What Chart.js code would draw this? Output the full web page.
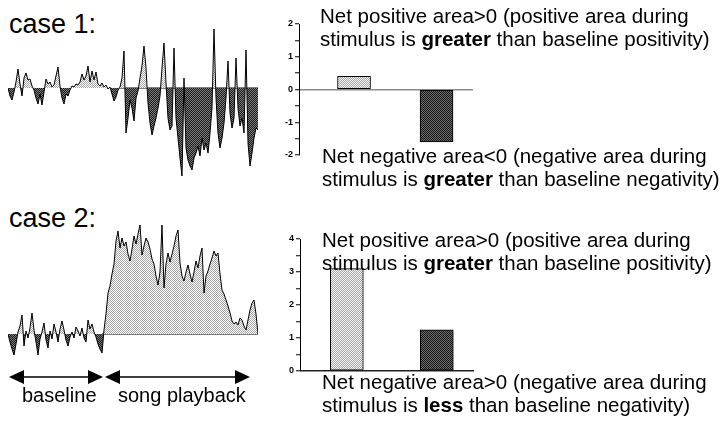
<!DOCTYPE html>
<html>
<head>
<meta charset="utf-8">
<script src="https://cdn.jsdelivr.net/npm/chart.js@4.4.1/dist/chart.umd.min.js"></script>
<style>
  body { margin: 0; background: #fff; }
  #fig { position: relative; width: 723px; height: 421px; font-family: Arial, "Liberation Sans", sans-serif; color: #000; overflow: hidden; }
  #fig canvas, #fig .txt, #fig svg { position: absolute; }
  .case { font-size: 27px; line-height: 31px; white-space: nowrap; }
  .note { font-size: 20.5px; line-height: 23px; white-space: nowrap; }
  .lbl { font-size: 20px; line-height: 23px; white-space: nowrap; }
</style>
</head>
<body>
<div id="fig">
  <div class="txt case" style="left:9px;top:9px">case 1:</div>
  <div class="txt case" style="left:9px;top:203px">case 2:</div>

  <canvas id="trace1" width="250" height="165" style="left:8px;top:20px"></canvas>
  <canvas id="trace2" width="250" height="170" style="left:8px;top:200px"></canvas>
  <canvas id="bars1" width="204" height="151" style="left:269px;top:14px"></canvas>
  <canvas id="bars2" width="204" height="152" style="left:270px;top:229px"></canvas>

  <div class="txt note" style="left:320px;top:4px">Net positive area&gt;0 (positive area during<br>stimulus is <b>greater</b> than baseline positivity)</div>
  <div class="txt note" style="left:322px;top:144px">Net negative area&lt;0 (negative area during<br>stimulus is <b>greater</b> than baseline negativity)</div>
  <div class="txt note" style="left:322px;top:228px">Net positive area&gt;0 (positive area during<br>stimulus is <b>greater</b> than baseline positivity)</div>
  <div class="txt note" style="left:322px;top:370px">Net negative area&gt;0 (negative area during<br>stimulus is <b>less</b> than baseline negativity)</div>

  <svg width="723" height="421" style="left:0;top:0">
    <line x1="20" y1="377" x2="92" y2="377" stroke="#000" stroke-width="1.6"/>
    <polygon points="9,377 24,370 24,384" fill="#000"/>
    <polygon points="103,377 88,370 88,384" fill="#000"/>
    <line x1="116" y1="377" x2="239" y2="377" stroke="#000" stroke-width="1.6"/>
    <polygon points="105,377 120,370 120,384" fill="#000"/>
    <polygon points="250,377 235,370 235,384" fill="#000"/>
  </svg>
  <div class="txt lbl" style="left:22px;top:384px">baseline</div>
  <div class="txt lbl" style="left:118px;top:384px">song playback</div>
</div>

<script>
// recorded traces, one sample per 2 px, amplitude relative to baseline (up = positive)
const case1Trace = [
  0, -8, -12, -4, 6, 19, 4, -8, 10, 15,
  8, 9, 2, -2, -10, -16, -6, -17, -4, 9,
  4, 6, 1, 3, 12, 21, 2, -10, -16, -6,
  -8, -2, 2, 1, 4, 3, 6, 14, 8, 12,
  22, 6, 17, 8, 16, 4, 2, 5, 1, 3,
  -1, 1, -6, -13, -9, -2, 1, 10, 37, -45,
  -30, -12, -20, -33, -10, -3, 10, 22, 42, 20,
  -15, -35, -47, -38, -30, -20, -8, 20, 45, 5,
  -30, -42, -38, 40, -30, -50, -70, -88, 10, -60,
  -72, -78, -82, -70, -65, -58, -68, -50, -62, -55,
  -65, -45, -20, 59, -10, -45, -60, -50, -35, -10,
  27, -25, -40, -30, 30, -20, -38, -30, -45, 38,
  -55, -78, -65, -50, -40, -42
];
const case2Trace = [
  0, -8, -15, -21, -10, 2, 8, 19, -12, 3,
  -4, 6, 21, 4, -8, -21, -5, 2, 11, -6,
  -14, 3, -5, 10, 2, -8, 5, 13, 4, -6,
  -12, -3, 2, -4, 7, 3, -2, 6, -4, -8,
  14, 5, 10, 2, -3, -10, -15, -19, 4, 20,
  41, 48, 60, 70, 93, 103, 86, 96, 88, 92,
  80, 73, 85, 98, 90, 100, 109, 79, 88, 96,
  92, 85, 75, 70, 58, 49, 62, 109, 46, 70,
  81, 72, 80, 88, 98, 104, 71, 58, 53, 62,
  69, 60, 52, 62, 73, 66, 78, 86, 41, 58,
  63, 70, 76, 83, 78, 81, 60, 44, 40, 34,
  28, 21, 13, 10, 12, 9, 16, 14, 8, 4,
  14, 24, 31, 34, 20, 0
];
// sample index where song playback starts
const case1Onset = 56;
const case2Onset = 47;

// net area during stimulus minus baseline
const areaLabels = ["Net positive area", "Net negative area"];
const case1Net = [0.4, -1.6];
const case2Net = [3.1, 1.25];

function stipple(a, b) {
  const c = document.createElement("canvas");
  c.width = 2; c.height = 2;
  const g = c.getContext("2d");
  g.fillStyle = a; g.fillRect(0, 0, 2, 2);
  g.fillStyle = b; g.fillRect(0, 0, 1, 1); g.fillRect(1, 1, 1, 1);
  return g.createPattern(c, "repeat");
}

const lightFill = stipple("#ffffff", "#a4a4a4");
const darkFill = stipple("#1e1e1e", "#7a7a7a");
const lightBar = stipple("#f4f4f4", "#a8a8a8");
const darkBar = stipple("#1a1a1a", "#6a6a6a");

function drawTrace(id, trace, onset, yMin, yMax) {
  new Chart(document.getElementById(id), {
    type: "line",
    data: {
      labels: trace.map((_, i) => i),
      datasets: [
        {
          data: trace,
          borderColor: "#000",
          borderWidth: 1,
          pointRadius: 0,
          tension: 0,
          fill: { target: "origin", above: lightFill, below: darkFill },
        },
        {
          data: trace.map((_, i) => (i >= onset ? 0 : null)),
          borderColor: "#000",
          borderWidth: 1.2,
          pointRadius: 0,
          fill: false,
        },
      ],
    },
    options: {
      responsive: false,
      animation: false,
      events: [],
      layout: { padding: 0 },
      plugins: { legend: { display: false }, tooltip: { enabled: false } },
      scales: {
        x: { display: false, offset: false },
        y: { display: false, min: yMin, max: yMax },
      },
    },
  });
}

function drawBars(id, values, yMin, yMax, xMin, xMax, zeroColor) {
  new Chart(document.getElementById(id), {
    type: "bar",
    data: {
      labels: areaLabels,
      datasets: [
        {
          data: values.map((v, i) => ({ x: i + 1, y: v })),
          backgroundColor: [lightBar, darkBar],
          borderColor: "#000",
          borderWidth: 1,
          borderSkipped: false,
          barThickness: 33,
        },
      ],
    },
    options: {
      responsive: false,
      animation: false,
      events: [],
      layout: { padding: { top: 10, bottom: 10, left: 0, right: 0 } },
      plugins: { legend: { display: false }, tooltip: { enabled: false } },
      scales: {
        x: { type: "linear", display: false, offset: false, min: xMin, max: xMax },
        y: {
          min: yMin,
          max: yMax,
          afterFit: (scale) => { scale.width = 30; },
          border: { display: true, color: "#000", width: 1 },
          grid: {
            color: (ctx) => (ctx.tick && ctx.tick.value === 0 ? zeroColor : "transparent"),
            lineWidth: 1.5,
            tickColor: "#000",
            tickLength: 4,
            tickWidth: 1,
          },
          ticks: {
            stepSize: 0.5,
            padding: 2,
            color: "#000",
            font: { family: "Arial, 'Liberation Sans', sans-serif", size: 9, weight: "bold" },
            callback: (v) => (Number.isInteger(v) ? String(v) : ""),
          },
        },
      },
    },
  });
}

drawTrace("trace1", case1Trace, case1Onset, -97, 68);
drawTrace("trace2", case2Trace, case2Onset, -36, 134);
drawBars("bars1", case1Net, -2, 2, 0.333, 2.442, "#8a8a8a");
drawBars("bars2", case2Net, 0, 4, 0.48, 2.413, "#222");
</script>
</body>
</html>
